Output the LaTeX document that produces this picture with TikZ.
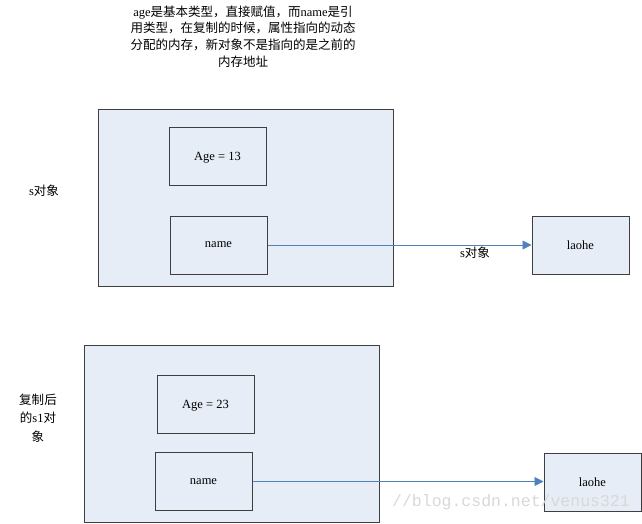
\documentclass[tikz,border=0pt]{standalone}
\usepackage{fontspec}
\setmainfont{Liberation Serif}
\setmonofont{Liberation Mono}
\newfontfamily\cjk{Noto Sans CJK SC}
\usetikzlibrary{arrows.meta}
\definecolor{boxfill}{HTML}{E7EDF6}
\definecolor{edgegray}{HTML}{3F3F3F}
\definecolor{arrowblue}{HTML}{4F81BD}
\definecolor{wmgray}{HTML}{D8D8D8}
\begin{document}
\begin{tikzpicture}[x=1pt,y=-1pt, font=\fontsize{12.5}{17}\selectfont,
  objbox/.style={draw=edgegray, fill=boxfill, line width=1pt, inner sep=0pt, minimum width=295pt, minimum height=177pt},
  fieldbox/.style={draw=edgegray, fill=boxfill, line width=1pt, inner sep=0pt, minimum width=97pt, minimum height=58pt, text depth=0pt},
  refarrow/.style={draw=arrowblue, line width=0.8pt, -{Triangle[length=9pt,width=9pt]}},
  lbl/.style={align=center, inner sep=0pt}]
\useasboundingbox (0,0) rectangle (642,523);

% title text
\node[lbl, font=\fontsize{12.5}{16.8}\selectfont] (title) at (243,36.5)
  {age{\cjk 是基本类型，直接赋值，而}name{\cjk 是引}\\
   {\cjk 用类型，在复制的时候，属性指向的动态}\\
   {\cjk 分配的内存，新对象不是指向的是之前的}\\
   {\cjk 内存地址}};

% first object
\node[objbox] (obj1) at (245.5,197.5) {};
\node[fieldbox] (age1) at (217.5,156) {Age = 13};
\node[fieldbox] (name1) at (218.5,245) {name};
\node[fieldbox] (laohe1) at (580.5,245) {laohe};
\node[lbl] (lab1) at (44,191) {s{\cjk 对象}};
\draw[refarrow] (name1.east) -- (laohe1.west);
\node[lbl] (arrlab) at (475,253) {s{\cjk 对象}};

% second object
\node[objbox] (obj2) at (231.5,433.5) {};
\node[fieldbox] (age2) at (205.5,404) {Age = 23};
\node[fieldbox] (name2) at (203.5,481.5) {name};
\node[fieldbox] (laohe2) at (592.5,482) {laohe};
\node[lbl, font=\fontsize{12.5}{18.5}\selectfont] (lab2) at (38,418)
  {{\cjk 复制后}\\{\cjk 的}s1{\cjk 对}\\{\cjk 象}};
\draw[refarrow] (name2.east) -- (name2.east -| laohe2.west);

% watermark
\node[lbl, text=wmgray, font=\ttfamily\fontsize{16.5}{18}\selectfont] (wm) at (511,502) {//blog.csdn.net/venus321};
\end{tikzpicture}
\end{document}
